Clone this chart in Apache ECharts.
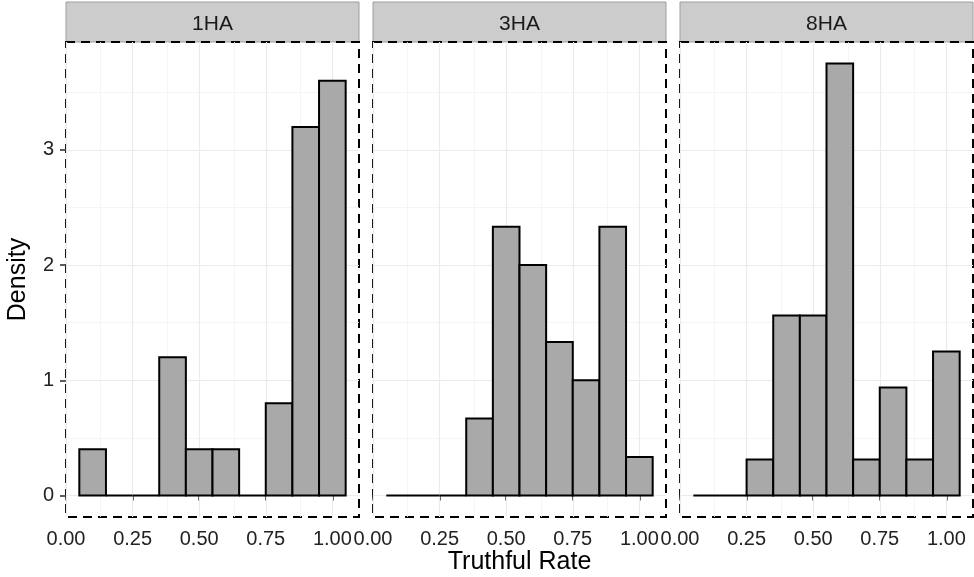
<!DOCTYPE html>
<html>
<head>
<meta charset="utf-8">
<script src="https://cdn.jsdelivr.net/npm/echarts@6/dist/echarts.min.js"></script>
<style>
  html, body { margin: 0; padding: 0; background: #fff; }
  #main { width: 974px; height: 577px; }
</style>
</head>
<body>
<div id="main"></div>
<script>
// facets and histogram bins (width 0.1)
const facets = ['1HA', '3HA', '8HA'];
const binCenters = [0.1, 0.2, 0.3, 0.4, 0.5, 0.6, 0.7, 0.8, 0.9, 1.0];
const binWidth = 0.1;

// density per bin
const density1HA = [0.4, 0, 0, 1.2, 0.4, 0.4, 0, 0.8, 3.2, 3.6];
const density3HA = [0, 0, 0, 0.667, 2.333, 2.0, 1.333, 1.0, 2.333, 0.333];
const density8HA = [0, 0, 0.3125, 1.5625, 1.5625, 3.75, 0.3125, 0.9375, 0.3125, 1.25];
const densities = [density1HA, density3HA, density8HA];

// tick labels / grid breaks
const xTicks = [0, 0.25, 0.5, 0.75, 1.0];
const xMinor = [0.125, 0.375, 0.625, 0.875];
const yTicks = [0, 1, 2, 3];
const yMinor = [0.5, 1.5, 2.5, 3.5];

const font = '"Liberation Sans", Arial, Helvetica, sans-serif';

// panel layout (pixels)
const panelLefts = [66, 373, 680];
const panelWidth = 293;
const panelTop = 42;
const panelHeight = 475;
const stripTop = 2;

// ggplot-like expansion of axes
const yDataMax = Math.max(...density1HA, ...density3HA, ...density8HA);
const yMin = -0.05 * yDataMax;
const yMax = yDataMax * 1.05;
const xMin = 0;
const xMax = 1.1;

let chartDom = document.getElementById('main');
let myChart = echarts.init(chartDom);

const majorLine = { color: '#EBEBEB', width: 1.2, type: 'solid' };
const minorLine = { color: '#F3F3F3', width: 0.8, type: 'solid' };

function gridMarks() {
  return [].concat(
    xMinor.map(v => ({ xAxis: v, lineStyle: minorLine })),
    yMinor.map(v => ({ yAxis: v, lineStyle: minorLine })),
    xTicks.map(v => ({ xAxis: v, lineStyle: majorLine })),
    yTicks.map(v => ({ yAxis: v, lineStyle: majorLine }))
  );
}

let grids = [], xAxes = [], yAxes = [], series = [], graphics = [];

facets.forEach((name, i) => {
  grids.push({
    left: panelLefts[i], top: panelTop, width: panelWidth, height: panelHeight,
    show: true,
    backgroundColor: 'transparent',
    borderColor: '#000',
    borderWidth: 2,
    borderType: [9, 6]
  });

  xAxes.push({
    gridIndex: i, type: 'value', min: xMin, max: xMax,
    axisLine: { show: false },
    axisTick: { show: true, length: 5, customValues: xTicks, lineStyle: { color: '#333', width: 1.6 } },
    axisLabel: {
      customValues: xTicks, margin: 12, fontSize: 20, color: '#222', fontFamily: font,
      formatter: v => v.toFixed(2)
    },
    splitLine: { show: false }
  });

  yAxes.push({
    gridIndex: i, type: 'value', min: yMin, max: yMax,
    axisLine: { show: false },
    axisTick: { show: i === 0, length: 6, customValues: yTicks, lineStyle: { color: '#333', width: 1.6 } },
    axisLabel: {
      show: i === 0, customValues: yTicks, margin: 12, fontSize: 20, color: '#222', fontFamily: font
    },
    splitLine: { show: false }
  });

  series.push({
    type: 'custom',
    name: name,
    xAxisIndex: i,
    yAxisIndex: i,
    z: 3,
    data: binCenters.map((c, k) => [c, densities[i][k]]),
    renderItem: function (params, api) {
      const c = api.value(0);
      const d = api.value(1);
      const p0 = api.coord([c - binWidth / 2, d]);
      const p1 = api.coord([c + binWidth / 2, 0]);
      return {
        type: 'rect',
        shape: { x: p0[0], y: p0[1], width: p1[0] - p0[0], height: p1[1] - p0[1] },
        style: { fill: '#A9A9A9', stroke: '#000', lineWidth: 2 }
      };
    },
    markLine: {
      silent: true,
      z: 1,
      symbol: 'none',
      label: { show: false },
      animation: false,
      data: gridMarks()
    },
    animation: false
  });

  // facet strip
  graphics.push({
    type: 'rect', z: -1,
    shape: { x: panelLefts[i], y: stripTop, width: panelWidth, height: panelTop - stripTop },
    style: { fill: '#CCCCCC', stroke: '#9E9E9E', lineWidth: 1 }
  });
  graphics.push({
    type: 'text', z: 5,
    x: panelLefts[i] + panelWidth / 2, y: (stripTop + panelTop) / 2 + 2,
    style: { text: name, fontSize: 21, fontFamily: font, fill: '#1A1A1A', align: 'center', verticalAlign: 'middle' }
  });
});

// axis titles
graphics.push({
  type: 'text', z: 5,
  x: (panelLefts[0] + panelLefts[2] + panelWidth) / 2, y: 562,
  style: { text: 'Truthful Rate', fontSize: 25, fontFamily: font, fill: '#000', align: 'center', verticalAlign: 'middle' }
});
graphics.push({
  type: 'text', z: 5,
  x: 18, y: panelTop + panelHeight / 2,
  rotation: Math.PI / 2,
  style: { text: 'Density', fontSize: 25, fontFamily: font, fill: '#000', align: 'center', verticalAlign: 'middle' }
});

let option = {
  backgroundColor: '#fff',
  animation: false,
  grid: grids,
  xAxis: xAxes,
  yAxis: yAxes,
  series: series,
  graphic: graphics
};

myChart.setOption(option);
</script>
</body>
</html>
